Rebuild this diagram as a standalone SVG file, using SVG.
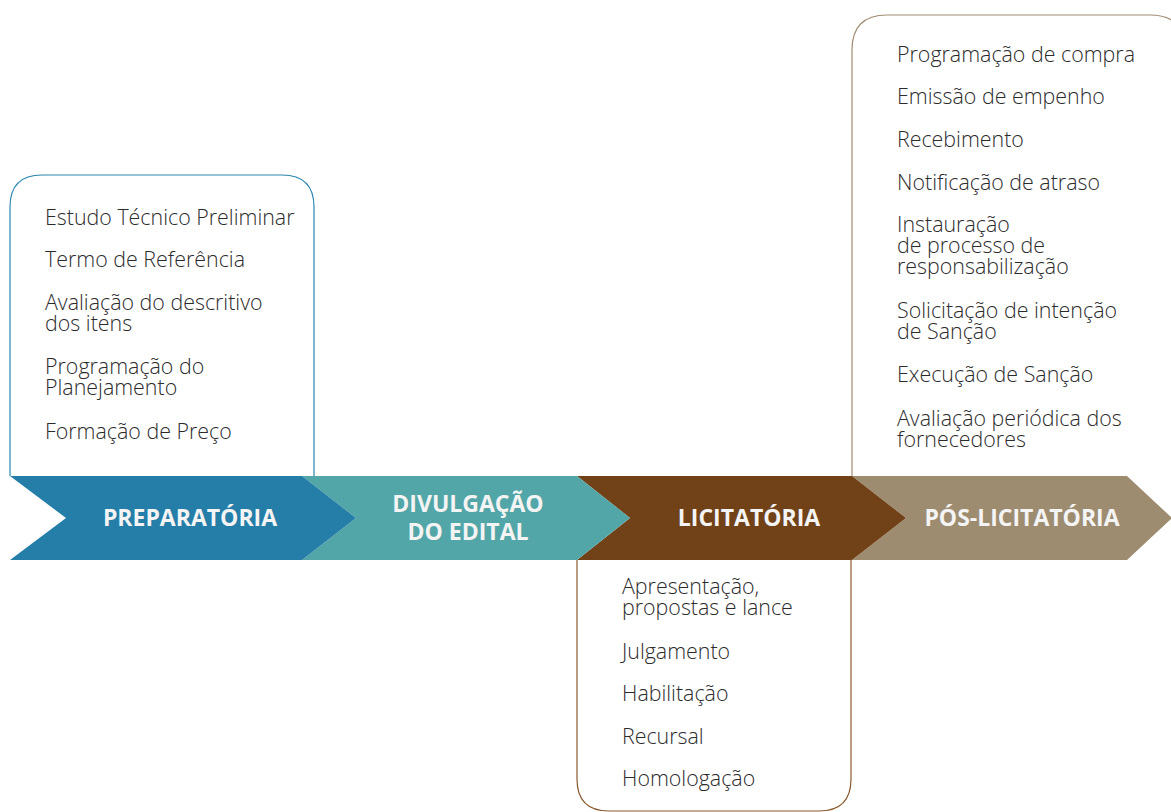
<svg xmlns="http://www.w3.org/2000/svg" width="1171" height="812" viewBox="0 0 1171 812">
<style>
.item{font-family:"Open Sans","Noto Sans",sans-serif;font-weight:300;font-size:21.4px;fill:#2b2b2b}
.lab{font-family:"Open Sans","Noto Sans",sans-serif;font-weight:700;font-size:23px;fill:#f4f4f4;text-anchor:middle}
.box{fill:#fff;stroke-width:1.2}
</style>
<rect width="1171" height="812" fill="#fff"/>
<g id="box-pos">
<path class="box" d="M852,476 V50 Q852,15 887,15 H1150 Q1185,15 1185,50 V476" stroke="#a08e72"/>
<text class="item" x="897" y="62">Programação de compra</text>
<text class="item" x="897" y="104">Emissão de empenho</text>
<text class="item" x="897" y="147">Recebimento</text>
<text class="item" x="897" y="190">Notificação de atraso</text>
<text class="item" x="897" y="232">Instauração<tspan x="897" dy="21">de processo de</tspan><tspan x="897" dy="21">responsabilização</tspan></text>
<text class="item" x="897" y="318">Solicitação de intenção<tspan x="897" dy="21">de Sanção</tspan></text>
<text class="item" x="897" y="382">Execução de Sanção</text>
<text class="item" x="897" y="426">Avaliação periódica dos<tspan x="897" dy="21">fornecedores</tspan></text>
</g>
<g id="box-preparatoria">
<path class="box" d="M10,476 V207 Q10,175 42,175 H282 Q314,175 314,207 V476" stroke="#2b86b0"/>
<text class="item" x="45" y="225">Estudo Técnico Preliminar</text>
<text class="item" x="45" y="267">Termo de Referência</text>
<text class="item" x="45" y="310">Avaliação do descritivo<tspan x="45" dy="21">dos itens</tspan></text>
<text class="item" x="45" y="374">Programação do<tspan x="45" dy="21">Planejamento</tspan></text>
<text class="item" x="45" y="439">Formação de Preço</text>
</g>
<g id="box-licitatoria">
<path class="box" d="M577,560 V779 Q577,811 609,811 H819 Q851,811 851,779 V560" stroke="#8a5a2e"/>
<text class="item" x="622" y="594">Apresentação,<tspan x="622" dy="21">propostas e lance</tspan></text>
<text class="item" x="622" y="659">Julgamento</text>
<text class="item" x="622" y="701">Habilitação</text>
<text class="item" x="622" y="744">Recursal</text>
<text class="item" x="622" y="786">Homologação</text>
</g>
<g id="connectors"></g>
<g id="chev-pos">
<polygon points="852,476 1127,476 1172,518 1127,560 852,560 906,518" fill="#9e8c71"/>
<text class="lab" x="1022" y="526">PÓS-LICITATÓRIA</text>
</g>
<g id="chev-licitatoria">
<polygon points="577,476 852,476 906,518 852,560 577,560 630,518" fill="#714218"/>
<text class="lab" x="749" y="526">LICITATÓRIA</text>
</g>
<g id="chev-divulgacao">
<polygon points="302,476 577,476 630,518 577,560 302,560 356,518" fill="#52a6a7"/>
<text class="lab" x="468" y="512">DIVULGAÇÃO<tspan x="468" dy="28">DO EDITAL</tspan></text>
</g>
<g id="chev-preparatoria">
<polygon points="10,476 302,476 356,518 302,560 10,560 66,518" fill="#247ea8"/>
<text class="lab" x="190" y="526">PREPARATÓRIA</text>
</g>
</svg>
